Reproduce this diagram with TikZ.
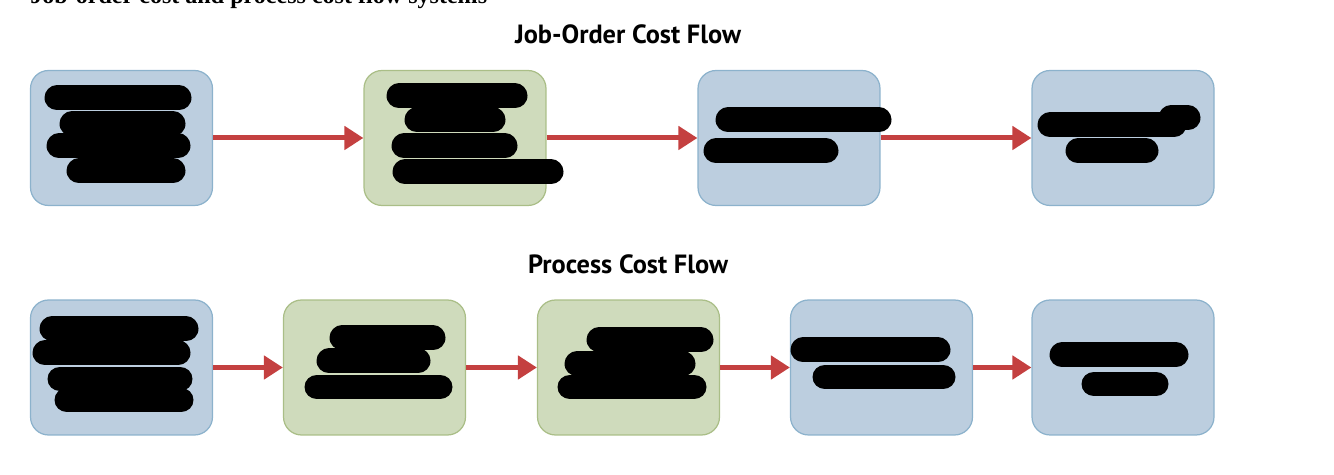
\documentclass[tikz,border=0pt]{standalone}
\usepackage{fontspec}
\setmainfont{Liberation Serif}
\newfontfamily\headfont{PT Sans}
\usetikzlibrary{arrows.meta,positioning}

\definecolor{boxblue}{RGB}{188,206,223}
\definecolor{lineblue}{RGB}{140,178,204}
\definecolor{boxgreen}{RGB}{207,219,188}
\definecolor{linegreen}{RGB}{170,190,135}
\definecolor{flowred}{RGB}{196,64,64}

\begin{document}
\begin{tikzpicture}[x=0.02cm, y=-0.02cm,
        stage/.style={draw, rectangle, rounded corners=0.36cm, line width=0.7pt,
          minimum width=3.64cm, minimum height=2.70cm, inner sep=0pt},
        account/.style={stage, fill=boxblue, draw=lineblue},
        process/.style={stage, fill=boxgreen, draw=linegreen},
        flow/.style={line width=0.1cm, flowred, -{Triangle[length=0.38cm,width=0.46cm]}},
        redact/.style={line width=0.5cm, line cap=round, black},
        heading/.style={font=\headfont\bfseries\fontsize{15}{18}\selectfont, inner sep=0pt}
      ]
        % fixe Bounding-Box
        \useasboundingbox (0,0) rectangle (1334,475);

        % Ueberschrift (oben abgeschnitten)
        \node[anchor=base west, inner sep=0pt, font=\bfseries\fontsize{13.7}{16}\selectfont]
          (caption) at (30,4) {Job-order cost and process cost flow systems};

        % Auftragsfertigung
        \node[heading] (jobtitle) at (628,34) {Job-Order Cost Flow};
        \node[account] (j1) at (121.5,138) {};
        \node[process] (j2) at (455,138) {};
        \node[account] (j3) at (789,138) {};
        \node[account] (j4) at (1123,138) {};
        \draw[flow] (j1) -- (j2);
        \draw[flow] (j2) -- (j3);
        \draw[flow] (j3) -- (j4);

        % Prozessfertigung
        \node[heading] (proctitle) at (628,264) {Process Cost Flow};
        \node[account] (p1) at (121.5,367.5) {};
        \node[process] (p2) at (374.5,367.5) {};
        \node[process] (p3) at (628.5,367.5) {};
        \node[account] (p4) at (881.5,367.5) {};
        \node[account] (p5) at (1123,367.5) {};
        \draw[flow] (p1) -- (p2);
        \draw[flow] (p2) -- (p3);
        \draw[flow] (p3) -- (p4);
        \draw[flow] (p4) -- (p5);

        % geschwaerzte Beschriftungen
        \foreach \xa/\xb/\yy in {57/179/98, 72/173/124, 59/178/146, 79/173/171,
                                 399/515/96, 417/493/120, 404/505/146, 405/551/172,
                                 728/879/120, 716/826/151,
                                 1050/1174/125, 1171/1188/118, 1078/1146/151,
                                 52/186/329, 45/178/353, 60/180/379, 67/181/400,
                                 342/433/338, 329/418/361, 317/440/387,
                                 599/701/340, 577/683/364, 570/694/387,
                                 803/938/350, 825/943/377,
                                 1062/1176/355, 1094/1156/384}
          \draw[redact] (\xa,\yy) -- (\xb,\yy);
      \end{tikzpicture}
\end{document}
